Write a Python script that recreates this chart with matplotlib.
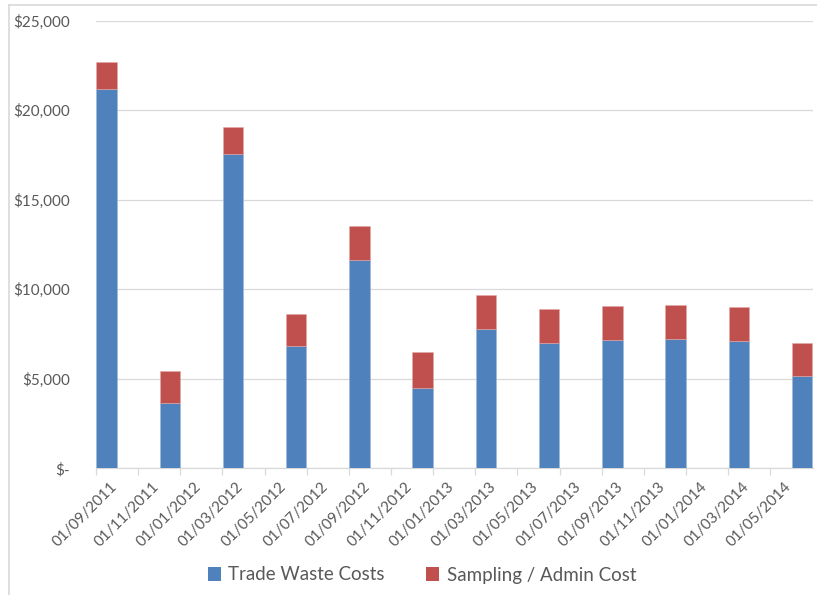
import matplotlib
matplotlib.use("Agg")
import matplotlib.pyplot as plt
from matplotlib.lines import Line2D
from matplotlib.patches import Patch
from matplotlib.transforms import ScaledTranslation
from matplotlib.ticker import FuncFormatter, FixedLocator

plt.rcParams['font.family'] = ['Lato', 'DejaVu Sans']

# Quarterly billing periods (first of month)
periods = ["01/09/2011", "01/12/2011", "01/03/2012", "01/06/2012",
           "01/09/2012", "01/12/2012", "01/03/2013", "01/06/2013",
           "01/09/2013", "01/12/2013", "01/03/2014", "01/06/2014"]
trade_waste = [21200, 3650, 17570, 6850, 11660, 4510,
               7800, 7000, 7190, 7210, 7120, 5180]
sampling_admin = [1480, 1790, 1510, 1770, 1880, 1970,
                  1890, 1920, 1860, 1920, 1880, 1810]
series_names = ["Trade Waste Costs", "Sampling / Admin Cost"]

axis_start = "01/09/2011"
axis_end = "01/07/2014"

BLUE = "#4F81BD"
RED = "#C0504D"
TEXT = "#595959"
GRID = "#D9D9D9"


def month_index(s):
    d, m, y = (int(v) for v in s.split("/"))
    return y * 12 + (m - 1)


m0 = month_index(axis_start)
m1 = month_index(axis_end)
xpos = [month_index(p) - m0 + 0.5 for p in periods]

W, H = 817, 595
fig = plt.figure(figsize=(W / 100, H / 100), dpi=100)
ax = fig.add_axes([96 / W, 1 - 468.3 / H, (812.5 - 96) / W, (468.3 - 20.7) / H])

ax.bar(xpos, trade_waste, width=0.97, color=BLUE, edgecolor="#9DB7DB",
       linewidth=0.4, zorder=3)
ax.bar(xpos, sampling_admin, bottom=trade_waste, width=0.97, color=RED,
       edgecolor="#E3A9A7", linewidth=0.4, zorder=3)

ax.set_xlim(0, m1 - m0)
ax.set_ylim(0, 25000)

# y axis: accounting style currency
ax.yaxis.set_major_locator(FixedLocator(range(0, 25001, 5000)))
ax.yaxis.set_major_formatter(FuncFormatter(
    lambda v, p: "$-" if v == 0 else f"${v:,.0f}"))
ax.tick_params(axis="y", length=0, pad=19, labelsize=11, labelcolor=TEXT)
ax.grid(axis="y", color=GRID, linewidth=0.9, zorder=0)

# x axis: every second month
tick_months = list(range(0, m1 - m0, 2))
tick_labels = []
for k in tick_months:
    mm = m0 + k
    tick_labels.append(f"01/{mm % 12 + 1:02d}/{mm // 12}")
ax.set_xticks(tick_months)
ax.set_xticklabels(tick_labels, rotation=45, ha="right", va="top",
                   rotation_mode="anchor")
ax.tick_params(axis="x", length=5, width=0.9, color=GRID, labelsize=11,
               labelcolor=TEXT, pad=3)
shift = ScaledTranslation(10 / 72, 0, fig.dpi_scale_trans)
for lab in ax.get_xticklabels():
    lab.set_transform(lab.get_transform() + shift)

for side in ("top", "right", "left"):
    ax.spines[side].set_visible(False)
ax.spines["bottom"].set_color(GRID)
ax.spines["bottom"].set_linewidth(0.9)

handles = [Patch(facecolor=BLUE, edgecolor="none"),
           Patch(facecolor=RED, edgecolor="none")]
fig.legend(handles, series_names, loc="center", ncol=2,
           bbox_to_anchor=(422 / W, 1 - 575 / H), frameon=False,
           fontsize=13.5, labelcolor=TEXT, handlelength=0.7,
           handleheight=0.7, handletextpad=0.4, columnspacing=2.2)

# chart area border
fig.add_artist(Line2D([9.3 / W, 9.3 / W], [0, 1 - 4.7 / H], color=GRID,
                      linewidth=1.2, transform=fig.transFigure))
fig.add_artist(Line2D([9.3 / W, 1], [1 - 4.7 / H, 1 - 4.7 / H], color=GRID,
                      linewidth=1.2, transform=fig.transFigure))

fig.savefig("out.png", dpi=100, facecolor="white")
